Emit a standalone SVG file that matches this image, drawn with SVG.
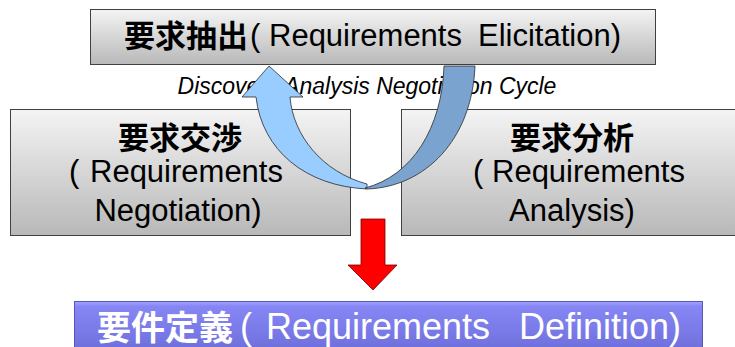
<svg xmlns="http://www.w3.org/2000/svg" width="735" height="347" viewBox="0 0 735 347">
<defs>
<linearGradient id="gray" x1="0" y1="0" x2="0" y2="1">
<stop offset="0" stop-color="#f4f4f4"/>
<stop offset="1" stop-color="#b8b8b8"/>
</linearGradient>
<linearGradient id="blue" x1="0" y1="0" x2="0" y2="1">
<stop offset="0" stop-color="#a4a4ff"/>
<stop offset="0.08" stop-color="#8686f5"/>
<stop offset="1" stop-color="#6a6ad6"/>
</linearGradient>
<style>
.box{fill:url(#gray);stroke:#404040;stroke-width:1}
.jp{font-family:"Noto Sans CJK JP","Noto Sans CJK SC",sans-serif;font-weight:bold}
.lt{font-family:"Liberation Sans",Arial,sans-serif}
.band{stroke:#2a2a2a;stroke-width:0.8;stroke-linejoin:round}
</style>
</defs>
<rect width="735" height="347" fill="#ffffff"/>

<g id="elicitation">
<rect class="box" x="90.5" y="9.5" width="565" height="55"/>
<text class="jp" x="124" y="47" font-size="31" fill="#000">要求抽出</text>
<text class="lt" x="250" y="46" font-size="31" fill="#000">(</text>
<text class="lt" x="269" y="46" font-size="31" fill="#000">Requirements</text>
<text class="lt" x="621" y="46" font-size="31" fill="#000" text-anchor="end">Elicitation)</text>
</g>

<g id="negotiation">
<rect class="box" x="10.5" y="109.5" width="340" height="126"/>
<text class="jp" x="180" y="149" font-size="31" fill="#000" text-anchor="middle">要求交渉</text>
<text class="lt" x="69" y="182" font-size="31" fill="#000">(</text>
<text class="lt" x="90" y="182" font-size="31" fill="#000">Requirements</text>
<text class="lt" x="178" y="221" font-size="31" fill="#000" text-anchor="middle">Negotiation)</text>
</g>

<g id="analysis">
<rect class="box" x="401.5" y="109.5" width="340" height="126"/>
<text class="jp" x="572" y="149" font-size="31" fill="#000" text-anchor="middle">要求分析</text>
<text class="lt" x="473" y="182" font-size="31" fill="#000">(</text>
<text class="lt" x="492" y="182" font-size="31" fill="#000">Requirements</text>
<text class="lt" x="572" y="221" font-size="31" fill="#000" text-anchor="middle">Analysis)</text>
</g>

<g id="definition">
<rect x="74.5" y="301.5" width="628" height="60" fill="url(#blue)" stroke="#5656b8" stroke-width="1"/>
<text class="jp" x="97" y="340" font-size="34" fill="#ffffff">要件定義</text>
<text class="lt" x="240" y="339" font-size="36" fill="#ffffff">(</text>
<text class="lt" x="266" y="339" font-size="36" fill="#ffffff">Requirements</text>
<text class="lt" x="681" y="339" font-size="36" fill="#ffffff" text-anchor="end">Definition)</text>
</g>

<g id="cycle-label">
<text class="lt" x="367" y="94" font-size="23" font-style="italic" fill="#000" text-anchor="middle">Discovery Analysis Negotiation Cycle</text>
</g>

<g id="connectors">
<path class="band" fill="#99ccff" d="M256,97 C262,150 305,186 367,189 L367,184 C322,172 293,135 290,97 L303,97 L269,66 L242,97 Z"/>
<path class="band" fill="#7aa4cf" d="M367,189 C425,187 472,140 475,66 L444,66 C442,128 412,176 365,188 Z"/>
<path fill="#ff0000" stroke="#7a0000" stroke-width="0.8" d="M361,219 L385,219 L385,265 L397,265 L373,290 L348,265 L361,265 Z"/>
</g>
</svg>
